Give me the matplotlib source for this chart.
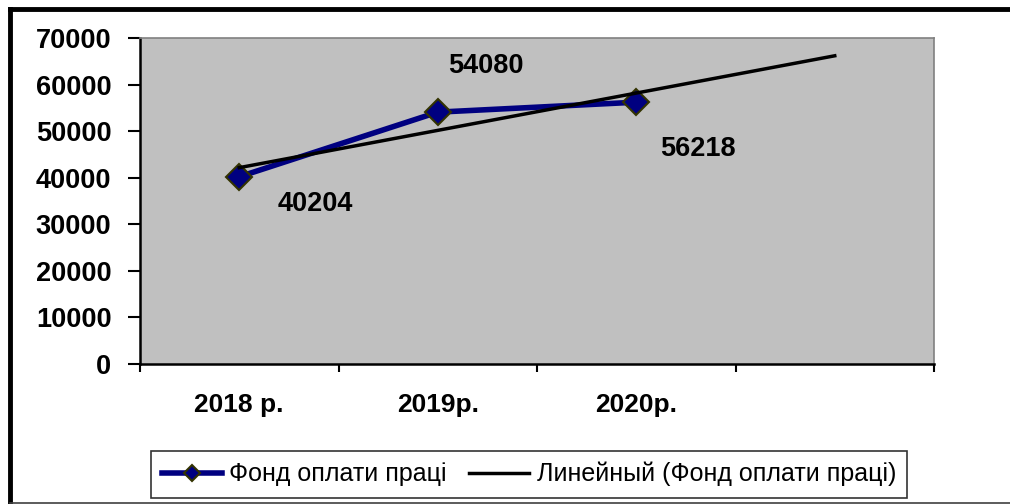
import numpy as np
from matplotlib import pyplot as plt
from matplotlib.lines import Line2D

plt.rcParams['font.family'] = ['Liberation Sans', 'DejaVu Sans']

# дані
roky = ['2018 р.', '2019р.', '2020р.']
fond = [40204, 54080, 56218]
y_ticks = [0, 10000, 20000, 30000, 40000, 50000, 60000, 70000]
# зсув підписів значень, пікселі
zsuv = [(76, -27), (48, 46), (62, -47)]

x = np.arange(len(roky)) + 0.5
# лінійний тренд з прогнозом на один період вперед
k, b = np.polyfit(x, fond, 1)
x_trend = np.array([x[0], x[-1] + 1])
y_trend = k * x_trend + b

fig = plt.figure(figsize=(10.1, 5.04), dpi=100)
ax = fig.add_axes([140 / 1010, 1 - 364 / 504, 794 / 1010, 326 / 504])
ax.set_facecolor('#c0c0c0')

ax.plot(x, fond, color='#000080', lw=4, marker='D', ms=13,
        markerfacecolor='#000080', markeredgecolor='#333300', markeredgewidth=1.5,
        label='Фонд оплати праці', zorder=3)
ax.plot(x_trend, y_trend, color='black', lw=2.5,
        label='Линейный (Фонд оплати праці)', zorder=4)

for xi, yi, (dx, dy) in zip(x, fond, zsuv):
    ax.annotate(str(yi), (xi, yi), xytext=(dx, dy), textcoords='offset pixels',
                ha='center', va='center', fontsize=19.5, fontweight='bold')

ax.set_xlim(0, 4)
ax.set_ylim(0, 70000)
ax.set_yticks(y_ticks)
ax.set_yticklabels([str(v) for v in y_ticks], fontsize=19.5, fontweight='bold')
ax.tick_params(axis='y', direction='out', length=8.6, width=1.5, pad=12)

ax.set_xticks(np.arange(0, 5))
ax.set_xticklabels([])
ax.tick_params(axis='x', which='major', direction='out', length=6, width=1.5)
ax.set_xticks(x, minor=True)
ax.set_xticklabels(roky, minor=True, fontsize=19, fontweight='bold')
ax.tick_params(axis='x', which='minor', length=0, pad=21)

ax.spines['left'].set_linewidth(1.8)
ax.spines['bottom'].set_linewidth(1.8)
ax.spines['top'].set_color('#808080')
ax.spines['right'].set_color('#808080')
ax.spines['top'].set_linewidth(1.2)
ax.spines['right'].set_linewidth(1.2)

leg = fig.legend(loc='center', bbox_to_anchor=(529 / 1010, 1 - 474 / 504), ncol=2,
                 fontsize=18, frameon=True, fancybox=False, handlelength=2.4,
                 columnspacing=0.9, handletextpad=0.3, borderpad=0.45,
                 markerscale=0.6)
leg.get_frame().set_edgecolor('black')
leg.get_frame().set_linewidth(1.2)

# рамка діаграми
fig.add_artist(Line2D([10 / 1010, 10 / 1010], [0, 1 - 9 / 504], color='black', lw=3.5))
fig.add_artist(Line2D([10 / 1010, 1], [1 - 9 / 504, 1 - 9 / 504], color='black', lw=3.5))
fig.add_artist(Line2D([10 / 1010, 1], [1 / 504, 1 / 504], color='#404040', lw=1.2))

fig.savefig('out.png', dpi=100)
